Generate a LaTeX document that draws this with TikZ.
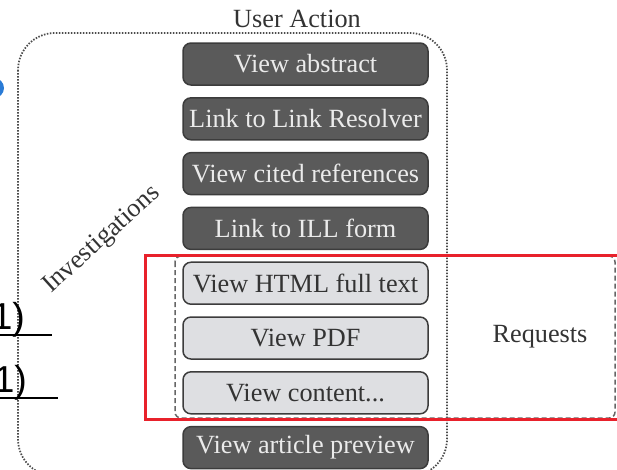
\documentclass[tikz,border=0pt]{standalone}
\usepackage{fontspec}
\setmainfont{Liberation Serif}
\newfontfamily\linkfont{Liberation Sans}
\definecolor{boxdark}{HTML}{5A5A5A}
\definecolor{boxlight}{HTML}{DEDFE2}
\definecolor{boxline}{HTML}{3C3C3C}
\definecolor{reqred}{HTML}{E8212B}
\definecolor{linkblue}{HTML}{2A7BD6}
\begin{document}
\begin{tikzpicture}[x=0.4pt, y=-0.4pt,
		actionbox/.style={draw=boxline, line width=0.6pt, rounded corners=3.2pt,
			minimum width=98pt, minimum height=16.8pt, inner sep=0pt,
			font=\fontsize{10.5}{12}\selectfont},
		darkbox/.style={actionbox, fill=boxdark, text=white!92!black},
		lightbox/.style={actionbox, fill=boxlight, text=black!80},
		label/.style={font=\fontsize{10.5}{12}\selectfont, text=black!80, inner sep=0pt}]

		\useasboundingbox (0, 0) rectangle (617, 469);

		% groups
		\draw[gray!60!black, line width=0.7pt, dash pattern=on 0.6pt off 0.6pt, rounded corners=14.8pt]
			(18, 33) rectangle (447, 476);
		\draw[gray!80!black, line width=0.6pt, dash pattern=on 2pt off 1.2pt, rounded corners=2.4pt]
			(175, 256) rectangle (615, 418);

		\node[darkbox] (abstract) at (305.5, 64) {View abstract};
		\node[darkbox] (resolver) at (305.5, 118.8) {Link to Link Resolver};
		\node[darkbox] (cited) at (305.5, 173.6) {View cited references};
		\node[darkbox] (ill) at (305.5, 228.4) {Link to ILL form};
		\node[lightbox] (html) at (305.5, 283.2) {View HTML full text};
		\node[lightbox] (pdf) at (305.5, 338) {View PDF};
		\node[lightbox] (content) at (305.5, 392.8) {View content...};
		\node[darkbox] (preview) at (305.5, 447.6) {View article preview};

		\draw[reqred, line width=1.2pt] (145, 255) rectangle (650, 419);

		\node[label, anchor=base] (useraction) at (297, 27) {User Action};
		\node[label, anchor=base] (requests) at (540, 342) {Requests};
		\node[label, rotate=42] (investigations) at (102, 240) {Investigations};

		% pieces of the neighbouring figure
		\fill[linkblue] (-6, 88) circle (10);
		\node[anchor=base west, inner sep=0pt, font=\linkfont\fontsize{15}{18}\selectfont] (linka) at (-9, 329) {1)};
		\node[anchor=base west, inner sep=0pt, font=\linkfont\fontsize{15}{18}\selectfont] (linkb) at (-7, 392) {1)};
		\draw[line width=0.6pt] (0, 335) -- (52, 335);
		\draw[line width=0.6pt] (0, 398) -- (58, 398);

	\end{tikzpicture}
\end{document}
